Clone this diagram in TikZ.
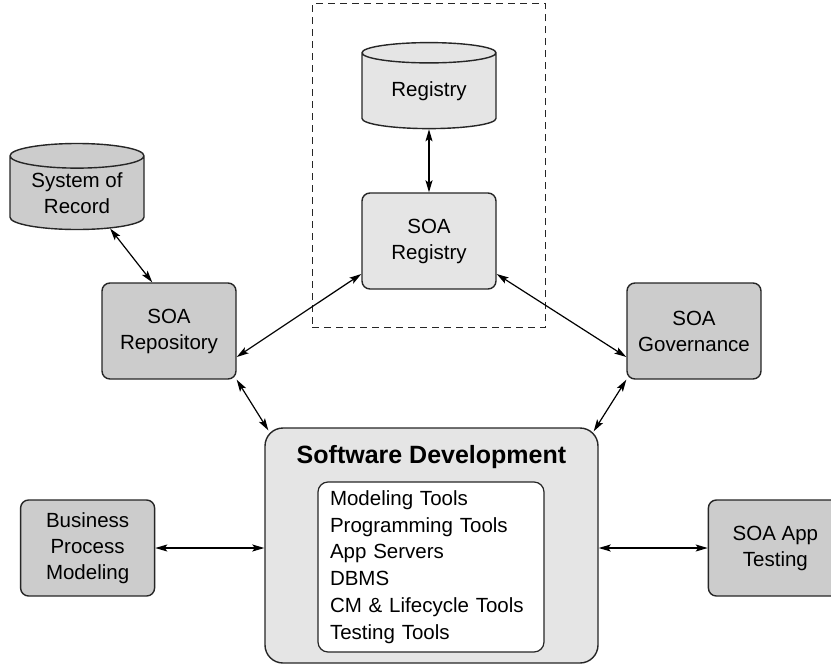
\documentclass[tikz,border=0pt]{standalone}
\usepackage{fontspec}
\setmainfont{Liberation Sans}
\usetikzlibrary{shapes.geometric, arrows.meta, positioning, calc, fit}
\definecolor{darkfill}{HTML}{CCCCCC}
\definecolor{lightfill}{HTML}{E5E5E5}
\tikzset{
    base/.style={draw=black!85, line width=1.4pt, align=center, font=\fontsize{20.5}{26}\selectfont, inner sep=0pt},
    tool/.style={base, rectangle, rounded corners=8pt, minimum width=134pt, minimum height=96pt, fill=darkfill},
    lighttool/.style={tool, fill=lightfill},
    store/.style={base, cylinder, shape border rotate=90, aspect=0.27, minimum width=134pt, minimum height=86pt, fill=darkfill},
    lightstore/.style={store, fill=lightfill},
    hub/.style={base, rectangle, rounded corners=18pt, minimum width=333pt, minimum height=235pt, fill=lightfill},
    toollist/.style={base, line width=1.2pt, rectangle, rounded corners=10pt, fill=white, align=left, text width=202pt, inner xsep=12pt, minimum width=226pt, minimum height=170pt, font=\fontsize{20.5}{26.8}\selectfont},
    frame/.style={draw=black!85, line width=1pt, dash pattern=on 7pt off 5pt},
    arrow/.style={{Stealth[length=12pt, width=7pt, inset=2.5pt]}-{Stealth[length=12pt, width=7pt, inset=2.5pt]}, line width=1.2pt}
}
\begin{document}
\begin{tikzpicture}[x=1pt, y=-1pt]
    \clip (0,0) rectangle (831,665);
    \fill[white] (0,0) rectangle (831,665);

    \node (swdev) [hub] at (431.5,545.5) {};
    \node (title) [anchor=base, font=\fontsize{25}{30}\selectfont\bfseries] at (431.5,463) {Software Development};
    \node (tools) [toollist] at (431,567) {Modeling Tools\\Programming Tools\\App Servers\\DBMS\\CM \& Lifecycle Tools\\Testing Tools};

    \node (bpm) [tool, left=109pt of swdev.west, yshift=-2.5pt, anchor=east] {Business\\Process\\Modeling};
    \node (apptest) [tool, right=109pt of swdev.east, yshift=-2.5pt, anchor=west] {SOA App\\Testing};

    \node (soarep) [tool] at (169,331) {SOA\\Repository};
    \node (soagov) [tool] at (694,331) {SOA\\Governance};
    \node (soareg) [lighttool] at (429,241) {SOA\\Registry};
    \node (registry) [lightstore, above=63pt of soareg] {Registry};
    \node (sor) [store] at (77,193) {System of\\Record};

    \node (regframe) [frame, fit=(registry)(soareg), inner xsep=49pt, inner ysep=38pt] {};

    \draw [arrow] (registry) -- (soareg);
    \draw [arrow] (sor.-47) -- (soarep.109);
    \draw [arrow] (soarep.-21) -- (soareg.206);
    \draw [arrow] (soareg.-26) -- (soagov.201);
    \draw [arrow] (soarep.south east) -- ([shift={(4,3)}]swdev.north west);
    \draw [arrow] (soagov.south west) -- ([shift={(-5,4)}]swdev.north east);
    \draw [arrow] (bpm.east) -- (bpm.east -| swdev.west);
    \draw [arrow] (swdev.east |- apptest.west) -- (apptest.west);
\end{tikzpicture}
\end{document}
